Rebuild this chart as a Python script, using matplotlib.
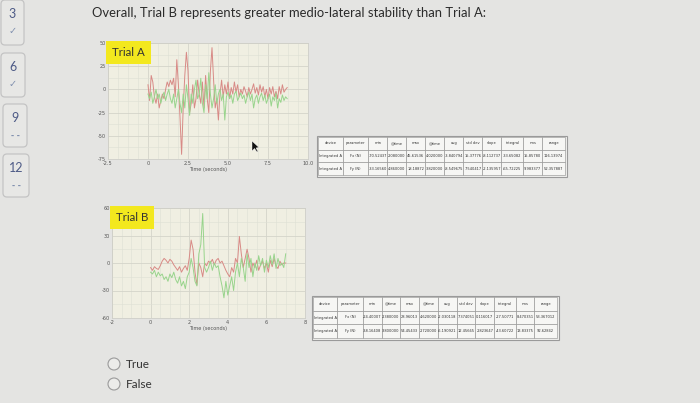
import numpy as np
import matplotlib.pyplot as plt
from matplotlib.patches import FancyBboxPatch, Circle, Rectangle, Polygon
from matplotlib.ticker import MultipleLocator, AutoMinorLocator, FuncFormatter

# force traces, one sample every 0.1 s
sample_step = 0.1
trial_a_fx = [5, -12, 15, 8, -8, -15, -5, -20, -12, -5,
              -10, 0, 8, 3, 10, 5, 12, -8, 32, 5,
              -30, -70, -20, 15, 40, 20, -25, -15, 5, -20,
              -10, 10, -5, -15, 8, -20, 15, -10, -25, 20,
              45, 10, -20, -10, -33, -5, 10, -8, 5, -5,
              8, -10, 2, -5, 8, -3, 5, -8, 0, -5,
              3, -2, -8, 2, -5, 0, 6, -4, 2, -6,
              5, -3, 3, -8, 0, -10, 2, -5, 3, -8,
              -2, -10, 3, -5, 5, -3, 0, 2]
trial_a_fy = [-5, -10, -3, -15, -8, 0, -10, -5, -15, -8,
              -3, -12, -5, 0, -10, -15, -5, -20, -10, 0,
              -15, -25, -5, -20, 5, -10, -28, -5, -15, 0,
              10, -10, -5, 12, -15, -25, 5, -10, 18, -5,
              -20, -10, 5, -15, -5, 0, -12, -5, -33, -8,
              -3, -10, -6, -15, -5, -2, -12, -8, -4, -10,
              -6, -15, -8, -3, -12, -5, -20, -10, -6, -15,
              -8, -4, -12, -6, -15, -10, -5, -18, -8, -12,
              -4, -20, -10, -14, -6, -12, -8, -10]
trial_b_fx = [-5, -8, -4, -6, -7, -3, 2, 5, 3, 0,
              4, 2, -2, -5, -8, -4, -10, -6, -3, -8,
              5, 25, 15, -10, -24, 0, -5, -15, 0, -3,
              2, 0, 4, -2, 3, 5, 0, 2, -3, -8,
              -12, -15, -5, -10, 5, 0, 29, 10, -5, 5,
              15, 5, -10, 0, -5, 3, -8, -2, 2, -6,
              0, -10, 3, -4, 5, -3, -6, 2, -2, 0,
              0]
trial_b_fy = [-10, -12, -8, -15, -10, -14, -12, -18, -15, -20,
              -12, -16, -10, -18, -22, -15, -25, -20, -28, -15,
              -10, 5, -5, -20, -25, 10, 20, 54, -5, -10,
              -5, 2, -8, 0, -5, -3, -15, -25, -38, -20,
              -35, -25, -15, -30, -10, 0, -15, 5, -5, -20,
              10, -5, 5, -15, 0, -8, 8, -3, 5, -10,
              3, -5, 8, -2, 10, -6, 5, -3, 0, -5,
              10]

columns = ['device', 'parameter', 'min', '@time', 'max', '@time',
           'avg', 'std dev', 'slope', 'integral', 'rms', 'range']
table_a_rows = [
    ['Integrated A', 'Fx (N)', '-70.52437', '2.080000', '45.61536', '4.020000',
     '-3.840794', '15.37776', '-8.112737', '-33.65082', '15.85780', '116.13974'],
    ['Integrated A', 'Fy (N)', '-33.16560', '4.860000', '18.18872', '3.820000',
     '-8.549675', '7.540417', '-2.135957', '-65.72225', '9.983377', '52.357887'],
]
table_b_rows = [
    ['Integrated A', 'Fx (N)', '-24.40007', '2.380000', '28.96013', '4.620000',
     '-2.030118', '7.374051', '0.116017', '-27.50771', '8.470351', '53.367012'],
    ['Integrated A', 'Fy (N)', '-38.16408', '3.800000', '54.45433', '2.720000',
     '-6.190921', '12.45665', '2.823647', '-43.60722', '13.83375', '92.62842'],
]

question_numbers = ['3', '6', '9', '12']
question_status = ['\u2713', '\u2713', '- -', '- -']
title = 'Overall, Trial B represents greater medio-lateral stability than Trial A:'
choices = ['True', 'False']

W, H = 700, 403
BG = '#e4e4e2'
PLOT_BG = '#f0efe2'
RED = '#d88a86'
GREEN = '#98d48c'

fig = plt.figure(figsize=(7, 4.03), dpi=100, facecolor=BG)

bg = fig.add_axes([0, 0, 1, 1], zorder=0)
bg.set_xlim(0, W)
bg.set_ylim(H, 0)
bg.axis('off')


def px_axes(x0, y0, x1, y1, z=1):
    return fig.add_axes([x0 / W, 1 - y1 / H, (x1 - x0) / W, (y1 - y0) / H], zorder=z)


# left sidebar with question tiles
tiles = [(1, 0, 24, 45), (1, 53, 25, 97), (3, 104, 27, 147), (3, 154, 29, 197)]
for (x0, y0, x1, y1), num, st in zip(tiles, question_numbers, question_status):
    bg.add_patch(FancyBboxPatch((x0, y0), x1 - x0, y1 - y0,
                                boxstyle='round,pad=0,rounding_size=4',
                                fc='#e7e7e5', ec='#c4c4c4', lw=0.9))
    cx = (x0 + x1) / 2
    bg.text(cx, y0 + 14, num, ha='center', va='center', fontsize=9,
            color='#4d5a86', family='Lato')
    bg.text(cx, y0 + 31, st, ha='center', va='center',
            fontsize=7 if st == '\u2713' else 5.5,
            color='#7f8fae', family='DejaVu Sans',
            fontweight='normal' if st == '\u2713' else 'bold')

bg.text(92, 13, title, ha='left', va='center', fontsize=9.4, color='#2b2b2b', family='Lato')


def draw_chart(box, fx, fy, xlim, ylim, xstep, ystep, label, xfmt):
    ax = px_axes(*box)
    t = np.arange(len(fx)) * sample_step
    ax.plot(t, fx, color=RED, lw=0.7)
    ax.plot(t, fy, color=GREEN, lw=0.7)
    ax.set_xlim(*xlim)
    ax.set_ylim(*ylim)
    ax.set_facecolor(PLOT_BG)
    ax.xaxis.set_major_locator(MultipleLocator(xstep))
    ax.yaxis.set_major_locator(MultipleLocator(ystep))
    ax.xaxis.set_minor_locator(AutoMinorLocator(4))
    ax.yaxis.set_minor_locator(AutoMinorLocator(2))
    ax.xaxis.set_major_formatter(FuncFormatter(xfmt))
    ax.yaxis.set_major_formatter(FuncFormatter(lambda v, p: f'{v:.0f}'))
    ax.grid(which='major', color='#d4d4ca', lw=0.6)
    ax.grid(which='minor', color='#dedfd4', lw=0.4)
    ax.set_axisbelow(True)
    ax.tick_params(which='both', length=0, labelsize=3.6, labelcolor='#555555', pad=1.5)
    for s in ax.spines.values():
        s.set_color('#cfcfc8')
        s.set_linewidth(0.6)
    ax.set_xlabel('Time (seconds)', fontsize=3.6, color='#555555', labelpad=1)
    ax.text(0.02, 0.965, label, transform=ax.transAxes, ha='left', va='top',
            fontsize=8.3, color='#333333', family='Lato',
            bbox=dict(boxstyle='square,pad=0.5', fc='#f3e81e', ec='none'))
    return ax


draw_chart((108, 43, 308, 159), trial_a_fx, trial_a_fy, (-2.5, 10), (-75, 50), 2.5, 25,
           'Trial A', lambda v, p: '0' if v == 0 else f'{v:.1f}')
draw_chart((112, 208, 305, 318), trial_b_fx, trial_b_fy, (-2, 8), (-60, 60), 2, 30,
           'Trial B', lambda v, p: f'{v:.0f}')

col_widths = [1.3, 1.35, 1, 1, 1, 1, 1, 1, 1, 1.15, 1, 1.2]


def draw_table(box, rows):
    ax = px_axes(*box)
    ax.axis('off')
    tb = ax.table(cellText=rows, colLabels=columns, cellLoc='center',
                  colWidths=col_widths, bbox=[0, 0, 1, 1])
    tb.auto_set_font_size(False)
    tb.set_fontsize(2.6)
    for cell in tb.get_celld().values():
        cell.set_edgecolor('#8c8c8c')
        cell.set_linewidth(0.4)
        cell.set_facecolor('#f6f6f4')
        cell.get_text().set_color('#333333')
    x0, y0, x1, y1 = box
    bg.add_patch(Rectangle((x0 - 1.5, y0 - 1.5), x1 - x0 + 3, y1 - y0 + 3,
                           fc='#f0f0ee', ec='#9a9a9a', lw=0.8))


draw_table((318, 137, 565, 175), table_a_rows)
draw_table((313, 297, 557, 338), table_b_rows)

# answer choices
for i, c in enumerate(choices):
    y = 364 + i * 20
    bg.add_patch(Circle((114, y), 6, fc='#ececea', ec='#9b9b9b', lw=0.8))
    bg.text(126, y, c, ha='left', va='center', fontsize=8.5, color='#333333', family='Lato')

# mouse pointer over chart A
top = fig.add_axes([0, 0, 1, 1], zorder=10)
top.set_xlim(0, W)
top.set_ylim(H, 0)
top.axis('off')
top.add_patch(Polygon([(252, 141), (252, 151), (254.5, 148.5), (257, 152), (258, 151.3),
                       (256, 148), (259, 147.5)], closed=True, fc='#111111', ec='white', lw=0.3))

fig.savefig('out.png', dpi=100, facecolor=BG)
